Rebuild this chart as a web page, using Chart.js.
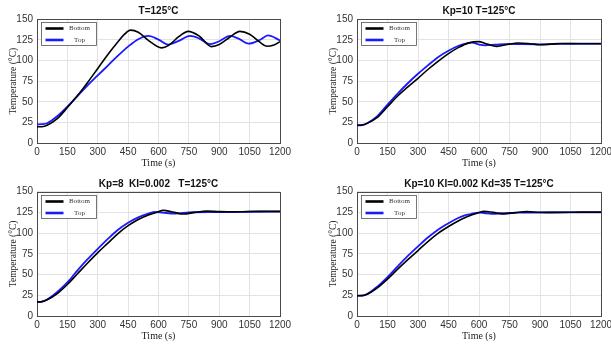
<!DOCTYPE html>
<html><head><meta charset="utf-8">
<script src="https://cdn.jsdelivr.net/npm/chart.js"></script>
<style>
html,body{margin:0;padding:0;background:#fff;}
#wrap{position:relative;width:611px;height:345px;overflow:hidden;background:#fff;}
canvas{position:absolute;}
</style></head><body>
<div id="wrap">
<canvas id="c1" width="305" height="172" style="left:0;top:0"></canvas>
<canvas id="c2" width="306" height="172" style="left:305px;top:0"></canvas>
<canvas id="c3" width="305" height="173" style="left:0;top:172px"></canvas>
<canvas id="c4" width="306" height="173" style="left:305px;top:172px"></canvas>
</div>
<script>
// ---- data ----
const chartTitles = ["T=125°C", "Kp=10 T=125°C", "Kp=8  KI=0.002   T=125°C", "Kp=10 KI=0.002 Kd=35 T=125°C"];
const seriesNames = ["Bottom", "Top"];
const xTickValues = [0, 150, 300, 450, 600, 750, 900, 1050, 1200];
const yTickValues = [0, 25, 50, 75, 100, 125, 150];
const xLabel = "Time (s)";
const yLabel = "Temperature (°C)";

// Chart 1: T=125°C
const t1Bottom = [0, 25, 50, 100, 150, 200, 250, 300, 350, 400, 430, 462, 500, 550, 615, 650, 700, 747, 800, 862, 900, 950, 1002, 1050, 1100, 1134, 1170, 1200];
const v1Bottom = [19.7, 19.8, 21.5, 29.5, 43, 57.5, 73.5, 90.5, 107.5, 123, 131.5, 137, 134.5, 124.5, 115.5, 118.5, 129, 135.5, 130, 117, 119.5, 128, 135.5, 132, 122.5, 117.5, 119, 123];
const t1Top = [0, 25, 50, 100, 150, 200, 250, 300, 350, 400, 450, 500, 550, 600, 647, 700, 755, 800, 854, 900, 953, 1000, 1045, 1100, 1141, 1200];
const v1Top = [22.5, 22.8, 24, 32.5, 44, 57, 70, 82, 94, 106, 117, 126, 130, 125.5, 119.5, 124, 130, 127, 120, 123.5, 130, 126, 120.5, 125, 130.5, 124.5];

// Chart 2: Kp=10
const t2Bottom = [0, 25, 50, 100, 150, 200, 250, 300, 350, 400, 450, 500, 550, 597, 640, 687, 740, 793, 850, 900, 950, 1000, 1100, 1200];
const v2Bottom = [21.5, 21.8, 23.8, 31, 44, 57, 68, 78.5, 89.5, 99.5, 108.5, 116, 121.5, 123, 120, 117.3, 119.5, 121.3, 120.5, 119.3, 120, 120.8, 120.5, 120.5];
const t2Top = [0, 25, 50, 100, 150, 200, 250, 300, 350, 400, 450, 500, 540, 565, 600, 630, 680, 750, 800, 900, 1000, 1100, 1200];
const v2Top = [21.5, 21.8, 24, 32.6, 46.5, 60, 72.5, 84, 94.5, 104.5, 112, 118, 121, 121.8, 119.5, 118.5, 119.3, 120.3, 120, 119.8, 120.3, 120.5, 120.5];

// Chart 3: Kp=8 KI=0.002
const t3Bottom = [0, 25, 50, 100, 150, 200, 250, 300, 350, 400, 450, 500, 550, 590, 624, 670, 722, 780, 838, 900, 1000, 1100, 1200];
const v3Bottom = [17, 17.3, 19.5, 27, 38, 51, 64, 76.5, 88, 99.5, 109, 116.5, 122, 125, 127.5, 125.5, 123, 125, 126.5, 126, 125.8, 126.3, 126.3];
const t3Top = [0, 25, 50, 100, 150, 200, 250, 300, 350, 400, 450, 500, 550, 585, 620, 681, 750, 850, 950, 1050, 1200];
const v3Top = [17, 17.3, 19.8, 29, 40.5, 55, 68.5, 81, 93, 104, 112.5, 119, 123.5, 125.5, 124.8, 123.6, 125, 125.5, 125.3, 125.8, 126];

// Chart 4: Kp=10 KI=0.002 Kd=35
const t4Bottom = [0, 25, 50, 100, 150, 200, 250, 300, 350, 400, 450, 500, 530, 560, 600, 625, 670, 720, 780, 835, 900, 1000, 1100, 1200];
const v4Bottom = [24.5, 24.6, 26.2, 34, 44.5, 56.5, 68, 79, 90, 100, 108, 115, 118.5, 121.5, 125, 126.3, 125, 123.2, 124.8, 126, 125.2, 125, 125.3, 125.3];
const t4Top = [0, 25, 50, 100, 150, 200, 250, 300, 350, 400, 450, 500, 530, 560, 600, 625, 662, 720, 800, 900, 1000, 1100, 1200];
const v4Top = [24.5, 24.6, 26.5, 35.5, 47, 60, 72.5, 84, 95, 104.5, 112, 118.5, 121.5, 123, 124.8, 124.3, 123.3, 124, 124.8, 124.8, 125, 125, 125];

// ---- drawing ----
const SANS = '"Liberation Sans", Arial, sans-serif';
const SERIF = '"Liberation Serif", "Times New Roman", serif';
const BLACK = '#000000';
const BLUE = '#1a1aff';

const boxPlugin = {
  id: 'axesBox',
  beforeDatasetsDraw(chart) {
    const {ctx, chartArea: a} = chart;
    ctx.save();
    ctx.strokeStyle = '#4a4a4a';
    ctx.lineWidth = 1;
    ctx.strokeRect(Math.round(a.left) + 0.5, Math.round(a.top) + 0.5, Math.round(a.right - a.left), Math.round(a.bottom - a.top));
    ctx.restore();
  }
};

const legendPlugin = {
  id: 'insideLegend',
  afterDatasetsDraw(chart) {
    const {ctx, chartArea: a} = chart;
    const x = Math.round(a.left) + 4.5, y = Math.round(a.top) + 3.5, w = 55, h = 23;
    ctx.save();
    ctx.fillStyle = '#fff';
    ctx.fillRect(x, y, w, h);
    ctx.strokeStyle = '#555';
    ctx.lineWidth = 0.8;
    ctx.strokeRect(x, y, w, h);
    chart.data.datasets.forEach((ds, i) => {
      const ly = y + 6 + i * 11.5;
      ctx.strokeStyle = ds.borderColor;
      ctx.lineWidth = 2.6;
      ctx.beginPath();
      ctx.moveTo(x + 4, ly);
      ctx.lineTo(x + 22, ly);
      ctx.stroke();
      ctx.fillStyle = '#333';
      ctx.font = '7px ' + SERIF;
      ctx.textAlign = 'center';
      ctx.textBaseline = 'middle';
      ctx.fillText(ds.label, x + 38, ly);
    });
    ctx.restore();
  }
};

function pts(t, v) { return t.map((x, i) => ({x: x, y: v[i]})); }

function makeChart(id, title, tb, vb, tt, vt, padLeft, padRight, titlePad) {
  new Chart(document.getElementById(id), {
    type: 'line',
    data: {
      datasets: [
        {label: seriesNames[0], data: pts(tb, vb), borderColor: BLACK, borderWidth: 1.6, pointRadius: 0, cubicInterpolationMode: 'monotone', fill: false},
        {label: seriesNames[1], data: pts(tt, vt), borderColor: BLUE, borderWidth: 1.8, pointRadius: 0, cubicInterpolationMode: 'monotone', fill: false}
      ]
    },
    options: {
      responsive: false,
      animation: false,
      devicePixelRatio: 1,
      layout: {padding: {left: padLeft, right: padRight, top: 0, bottom: 0}},
      plugins: {
        legend: {display: false},
        tooltip: {enabled: false},
        title: {
          display: true, text: title, fullSize: false, color: '#111',
          font: {family: SANS, size: 10, weight: 'bold'},
          padding: titlePad
        }
      },
      scales: {
        x: {
          type: 'linear', min: 0, max: 1200,
          afterBuildTicks: s => { s.ticks = xTickValues.map(v => ({value: v})); },
          afterFit: s => { s.height = 29; s.paddingLeft = 0; s.paddingRight = 0; },
          grid: {color: '#e3e3e3', drawTicks: false, lineWidth: 1},
          border: {display: false},
          ticks: {font: {family: SANS, size: 10}, color: '#333', padding: 3, maxRotation: 0, autoSkip: false, callback: v => String(v)},
          title: {display: true, text: xLabel, font: {family: SERIF, size: 10}, color: '#222', padding: {top: 0, bottom: 2.7}}
        },
        y: {
          min: 0, max: 150,
          afterBuildTicks: s => { s.ticks = yTickValues.map(v => ({value: v})); },
          afterFit: s => { s.width = 37; },
          grid: {color: '#e3e3e3', drawTicks: false, lineWidth: 1},
          border: {display: false},
          ticks: {font: {family: SANS, size: 10}, color: '#333', padding: 4, autoSkip: false, callback: v => String(v)},
          title: {display: true, text: yLabel, font: {family: SERIF, size: 9.5}, color: '#222', padding: {top: 7.3, bottom: 0}}
        }
      }
    },
    plugins: [boxPlugin, legendPlugin]
  });
}

makeChart('c1', chartTitles[0], t1Bottom, v1Bottom, t1Top, v1Top, 0, 25, {top: 5.2, bottom: 2.2});
makeChart('c2', chartTitles[1], t2Bottom, v2Bottom, t2Top, v2Top, 15, 10, {top: 5.2, bottom: 2.2});
makeChart('c3', chartTitles[2], t3Bottom, v3Bottom, t3Top, v3Top, 0, 25, {top: 6.3, bottom: 1.4});
makeChart('c4', chartTitles[3], t4Bottom, v4Bottom, t4Top, v4Top, 15, 10, {top: 6.3, bottom: 1.4});
</script>
</body></html>
